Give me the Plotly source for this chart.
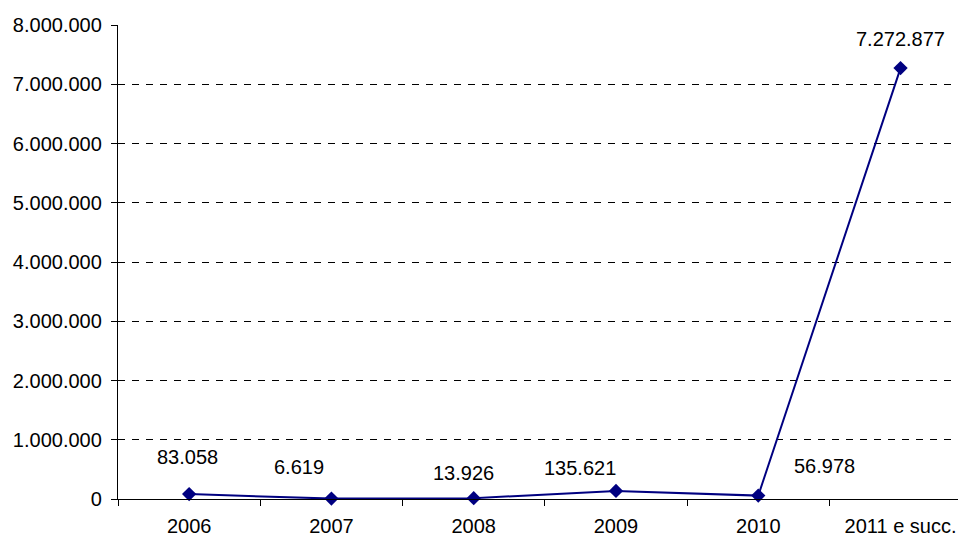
import plotly.graph_objects as go

categories = ["2006", "2007", "2008", "2009", "2010", "2011 e succ."]
values = [83058, 6619, 13926, 135621, 56978, 7272877]
label_dx = [-2, -32, -10, -36, 66, 0]
label_dy = [37, 32, 25, 23, 30, 29]
y_ticks = [0, 1000000, 2000000, 3000000, 4000000, 5000000, 6000000, 7000000, 8000000]

FONT = "Liberation Sans, Arial, sans-serif"
FS = 20

def fmt(v):
    return f"{v:,}".replace(",", ".")

fig = go.Figure()
fig.add_trace(go.Scatter(
    x=categories, y=values, mode="lines+markers",
    line=dict(color="#000080", width=2),
    marker=dict(symbol="diamond", size=11, color="#000080"),
    hoverinfo="skip", cliponaxis=False,
))

for i, (v, dx, dy) in enumerate(zip(values, label_dx, label_dy)):
    fig.add_annotation(x=i, y=v, xref="x", yref="y", text=fmt(v), showarrow=False,
                       xshift=dx, yshift=dy,
                       font=dict(family=FONT, size=FS, color="black"))

fig.update_layout(
    width=966, height=541,
    margin=dict(l=110, r=8, t=17, b=50, autoexpand=False),
    paper_bgcolor="white", plot_bgcolor="white",
    separators=",.",
    showlegend=False,
    font=dict(family=FONT, size=FS, color="black"),
)
fig.update_xaxes(
    type="category", range=[-0.5, 5.46], automargin=False,
    showline=True, linecolor="black", linewidth=1.3,
    ticks="outside", tickson="boundaries", ticklen=6, tickcolor="black",
    showgrid=False, zeroline=False,
    tickfont=dict(family=FONT, size=FS, color="black"),
    ticklabelstandoff=9,
)
fig.update_yaxes(
    range=[0, 8000000], tickvals=y_ticks, ticktext=[fmt(t) for t in y_ticks],
    automargin=False,
    showline=True, linecolor="black", linewidth=1.3,
    ticks="outside", ticklen=6, tickcolor="black",
    showgrid=True, gridcolor="black", gridwidth=1, griddash="7px,7px",
    zeroline=False,
    tickfont=dict(family=FONT, size=FS, color="black"),
    ticklabelstandoff=5,
)

fig.write_html("out.html")
